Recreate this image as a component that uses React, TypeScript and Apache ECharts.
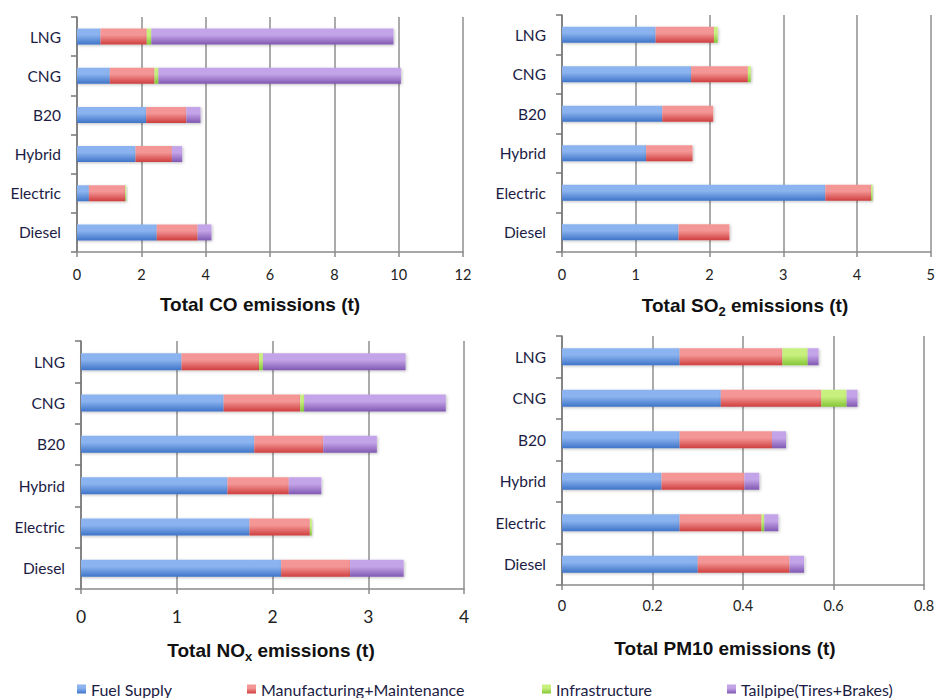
import React, { useEffect, useRef } from "react";
import * as echarts from "echarts";

const categories = ["Diesel", "Electric", "Hybrid", "B20", "CNG", "LNG"];
const seriesNames = ["Fuel Supply", "Manufacturing+Maintenance", "Infrastructure", "Tailpipe(Tires+Brakes)"];

// CO (t)
const coFuel = [2.48, 0.37, 1.82, 2.15, 1.02, 0.73];
const coManuf = [1.27, 1.13, 1.13, 1.25, 1.39, 1.44];
const coInfra = [0, 0.03, 0, 0, 0.12, 0.14];
const coTail = [0.43, 0, 0.32, 0.44, 7.54, 7.53];

// SO2 (t)
const so2Fuel = [1.58, 3.57, 1.14, 1.36, 1.75, 1.27];
const so2Manuf = [0.69, 0.62, 0.63, 0.69, 0.77, 0.79];
const so2Infra = [0, 0.02, 0, 0, 0.04, 0.05];
const so2Tail = [0, 0, 0, 0, 0, 0];

// NOx (t)
const noxFuel = [2.09, 1.76, 1.53, 1.81, 1.49, 1.05];
const noxManuf = [0.72, 0.63, 0.64, 0.72, 0.8, 0.81];
const noxInfra = [0, 0.02, 0, 0, 0.04, 0.04];
const noxTail = [0.56, 0, 0.34, 0.56, 1.48, 1.49];

// PM10 (t)
const pmFuel = [0.3, 0.26, 0.22, 0.26, 0.351, 0.26];
const pmManuf = [0.203, 0.181, 0.183, 0.204, 0.222, 0.227];
const pmInfra = [0, 0.006, 0, 0, 0.056, 0.056];
const pmTail = [0.032, 0.031, 0.033, 0.031, 0.024, 0.024];

const coTicks = { min: 0, max: 12, interval: 2 };
const so2Ticks = { min: 0, max: 5, interval: 1 };
const noxTicks = { min: 0, max: 4, interval: 1 };
const pmTicks = { min: 0, max: 0.8, interval: 0.2 };

const grad = (top: string, bottom: string) =>
  new echarts.graphic.LinearGradient(0, 0, 0, 1, [
    { offset: 0, color: top },
    { offset: 0.4, color: top },
    { offset: 1, color: bottom },
  ]);

const colors = [
  () => grad("#8ab3ef", "#3f74c8"),
  () => grad("#f49696", "#cf3e3e"),
  () => grad("#c8f07e", "#84c636"),
  () => grad("#c4a4e8", "#8058b2"),
];

const labelFont = "Lato, 'Open Sans', sans-serif";
const titleFont = "'Liberation Sans', Arial, sans-serif";
const navy = "#1c1c44";

export default function App() {
  const ref = useRef<HTMLDivElement>(null);

  useEffect(() => {
    if (!ref.current) return;
    const chart = echarts.init(ref.current, undefined, { renderer: "svg" });

    const grids = [
      { left: 77, top: 17, width: 386, height: 235 },
      { left: 562, top: 15, width: 370, height: 237 },
      { left: 81, top: 341, width: 383, height: 248 },
      { left: 562, top: 336, width: 362, height: 249 },
    ];
    const ticks = [coTicks, so2Ticks, noxTicks, pmTicks];
    const tickFont = [14.5, 14.5, 17.5, 14.5];
    const tickMargin = [15, 15, 18, 13];
    const barW = [16, 16, 17, 17];
    const data = [
      [coFuel, coManuf, coInfra, coTail],
      [so2Fuel, so2Manuf, so2Infra, so2Tail],
      [noxFuel, noxManuf, noxInfra, noxTail],
      [pmFuel, pmManuf, pmInfra, pmTail],
    ];

    const xAxis = ticks.map((t, i) => ({
      type: "value",
      gridIndex: i,
      min: t.min,
      max: t.max,
      interval: t.interval,
      axisLine: { show: true, lineStyle: { color: "#8a8a8a", width: 1.5 } },
      axisTick: { show: true, length: 5, lineStyle: { color: "#8a8a8a", width: 1.5 } },
      splitLine: { show: true, lineStyle: { color: "#8f8f8f", width: 1.5 } },
      axisLabel: {
        fontFamily: labelFont,
        fontSize: tickFont[i],
        color: "#222",
        margin: tickMargin[i],
        hideOverlap: false,
        showMaxLabel: true,
        showMinLabel: true,
      },
    }));

    const yAxis = grids.map((_, i) => ({
      type: "category",
      gridIndex: i,
      data: categories,
      axisLine: { show: true, lineStyle: { color: "#777", width: 1.5 } },
      axisTick: { show: true, length: 6, lineStyle: { color: "#777", width: 1.5 } },
      axisLabel: { fontFamily: labelFont, fontSize: 15.5, color: navy, margin: 16 },
    }));

    const series: any[] = [];
    data.forEach((set, gi) => {
      set.forEach((vals, si) => {
        series.push({
          type: "bar",
          name: seriesNames[si],
          xAxisIndex: gi,
          yAxisIndex: gi,
          stack: "s" + gi,
          barWidth: barW[gi],
          data: vals,
          itemStyle: {
            color: colors[si](),
            shadowColor: "rgba(0,0,0,0.25)",
            shadowBlur: 3,
            shadowOffsetX: 1,
            shadowOffsetY: 1,
          },
        });
      });
    });

    const legendPos = [77, 247, 542, 727];
    const legend = seriesNames.map((n, i) => ({
      data: [n],
      left: legendPos[i],
      top: 681,
      orient: "horizontal",
      icon: "rect",
      itemWidth: 9,
      itemHeight: 9,
      padding: 0,
      selectedMode: false,
      textStyle: { fontFamily: labelFont, fontSize: 16, color: navy },
    }));

    const titleStyle = (text: string) => ({
      text,
      fontFamily: titleFont,
      fontSize: 19,
      fontWeight: "bold",
      fill: "#111",
      align: "center",
      verticalAlign: "middle",
      rich: {
        b: { fontFamily: titleFont, fontSize: 19, fontWeight: "bold", color: "#111" },
        sub: {
          fontFamily: titleFont,
          fontSize: 13,
          fontWeight: "bold",
          color: "#111",
          padding: [12, 0, 0, 0],
        },
      },
    });

    const graphic = [
      { type: "text", x: 260, y: 304, style: titleStyle("{b|Total CO emissions (t)}") },
      { type: "text", x: 745, y: 305, style: titleStyle("{b|Total SO}{sub|2}{b| emissions (t)}") },
      { type: "text", x: 271, y: 650, style: titleStyle("{b|Total NO}{sub|x}{b| emissions (t)}") },
      { type: "text", x: 725, y: 648, style: titleStyle("{b|Total PM10 emissions (t)}") },
    ];

    chart.setOption({
      animation: false,
      backgroundColor: "#ffffff",
      grid: grids,
      xAxis,
      yAxis,
      series,
      legend,
      graphic,
    });

    return () => chart.dispose();
  }, []);

  return <div ref={ref} style={{ width: 938, height: 698, position: "absolute", left: 0, top: 0 }} />;
}
